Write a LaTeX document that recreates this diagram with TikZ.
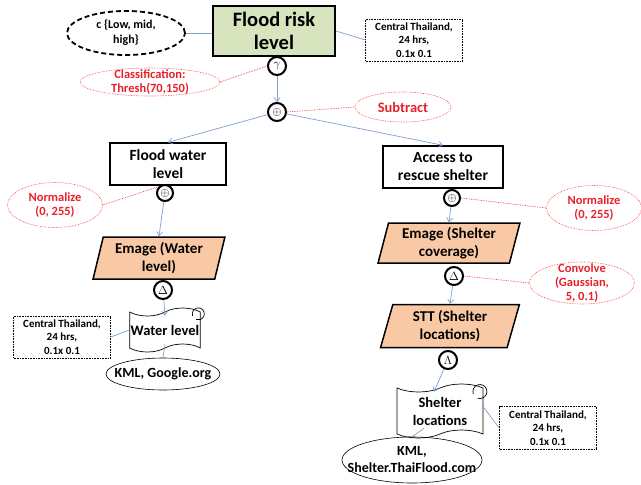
\documentclass[tikz,border=0pt]{standalone}
\usepackage{fontspec}
\setmainfont{Carlito}
\usetikzlibrary{shapes.geometric,shapes.symbols,arrows.meta}
\definecolor{titlegreen}{HTML}{D7E4BD}
\definecolor{peach}{HTML}{F9C9A5}
\definecolor{connblue}{HTML}{7F9FCF}
\definecolor{textred}{HTML}{E8202A}
\tikzset{
  titlebox/.style={draw, line width=2pt, fill=titlegreen, minimum width=122pt, minimum height=50pt,
    align=center, inner sep=1pt, font=\bfseries\fontsize{20.5}{23}\selectfont},
  procbox/.style={draw, line width=1.4pt, minimum width=116pt, minimum height=42pt, align=center,
    inner sep=1pt, font=\bfseries\fontsize{15.5}{18}\selectfont},
  metabox/.style={draw, densely dotted, line width=0.6pt, minimum width=97pt, minimum height=42pt,
    align=center, inner sep=1pt, font=\bfseries\fontsize{11}{13.5}\selectfont},
  lbl/.style={align=center, inner sep=0pt},
  redell/.style={ellipse, draw=red!85, densely dotted, line width=0.6pt, inner sep=0pt},
  redtxt/.style={lbl, text=textred, font=\bfseries\fontsize{12.5}{14}\selectfont},
  catell/.style={ellipse, draw, dash pattern=on 5pt off 3pt, line width=1.8pt, inner sep=0pt, minimum width=118pt, minimum height=44pt},
  srcell/.style={ellipse, draw, line width=0.6pt, inner sep=0pt},
  opnode/.style={circle, draw, line width=2pt, minimum size=18pt, inner sep=0pt, fill=white,
    font=\bfseries\fontsize{12}{12}\selectfont},
  paranode/.style={trapezium, trapezium left angle=76, trapezium right angle=104, trapezium stretches=true,
    draw, line width=1.5pt, fill=peach, align=center, inner sep=1pt,
    font=\bfseries\fontsize{15}{17.5}\selectfont},
  tapenode/.style={tape, draw, line width=0.7pt, fill=white, align=center, inner sep=1pt,
    tape bend height=8pt, font=\bfseries\fontsize{14.5}{18}\selectfont},
  conn/.style={draw=connblue, line width=0.7pt},
  arr/.style={conn, -{Straight Barb[length=4pt,width=6pt]}},
  redline/.style={draw=red!80, densely dotted, line width=0.7pt},
}
\begin{document}
\begin{tikzpicture}[x=1pt,y=-1pt]
\useasboundingbox (0,0) rectangle (641,485);

% top
\node[titlebox] (risk) at (274,31) {Flood risk\\level};
\node[catell, label={[lbl,font=\bfseries\fontsize{12}{15}\selectfont]center:{c \{Low, mid,\\high\}}}] (cat) at (126,33) {};
\node[metabox] (m1) at (414,40) {Central Thailand,\\24 hrs,\\0.1x 0.1};
\node[opnode] (g) at (277,66) {$\gamma$};
\node[redell, minimum width=140pt, minimum height=28pt, label={[redtxt]center:{Classification:\\Thresh(70,150)}}] (cls) at (150,82) {};
\node[opnode] (sub) at (277,112) {$\oplus$};
\node[redell, minimum width=96pt, minimum height=30pt, label={[redtxt,font=\bfseries\fontsize{14.5}{15}\selectfont]center:{Subtract}}] (subl) at (403,107) {};

% left branch
\node[procbox] (fw) at (168,164) {Flood water\\level};
\node[opnode, minimum size=16pt] (n1) at (165,193) {$\oplus$};
\node[redell, minimum width=95pt, minimum height=45pt, label={[redtxt]center:{Normalize\\(0, 255)}}] (nl1) at (55,205) {};
\node[paranode, minimum width=132pt, minimum height=42pt] (em1) at (159,258) {Emage (Water\\level)};
\node[opnode] (d1) at (163,290) {$\Delta$};
\node[tapenode, minimum width=70pt, minimum height=44pt] (wl) at (165,330) {Water level};
\node[metabox] (m2) at (62,337) {Central Thailand,\\24 hrs,\\0.1x 0.1};
\node[srcell, minimum width=114pt, minimum height=32pt, label={[lbl,font=\bfseries\fontsize{14}{16}\selectfont]center:{KML, Google.org}}] (kml1) at (163,374) {};

% right branch
\node[procbox, minimum width=120pt] (acc) at (443,167) {Access to\\rescue shelter};
\node[opnode, minimum size=16pt] (n2) at (452,198) {$\oplus$};
\node[redell, minimum width=95pt, minimum height=45pt, label={[redtxt]center:{Normalize\\(0, 255)}}] (nl2) at (594,208) {};
\node[paranode, minimum width=142pt, minimum height=40pt] (em2) at (449,243) {Emage (Shelter\\coverage)};
\node[opnode] (d2) at (454,276) {$\Delta$};
\node[redell, minimum width=105pt, minimum height=42pt, label={[redtxt]center:{Convolve\\(Gaussian,\\5, 0.1)}}] (conv) at (582,283) {};
\node[paranode, minimum width=140pt, minimum height=43pt] (stt) at (450,326) {STT (Shelter\\locations)};
\node[opnode] (lam) at (448,360) {$\Lambda$};
\node[tapenode, minimum width=86pt, minimum height=54pt] (sl) at (440,411) {Shelter\\locations};
\node[metabox, minimum height=43pt] (m3) at (548,428) {Central Thailand,\\24 hrs,\\0.1x 0.1};
\node[srcell, minimum width=140pt, minimum height=46pt, label={[lbl,font=\bfseries\fontsize{14}{17}\selectfont]center:{KML,\\Shelter.ThaiFlood.com}}] (kml2) at (412,460) {};

% curls on tapes
\draw[line width=0.7pt] ([xshift=-8pt,yshift=-4pt]wl.north east) arc[start angle=200, end angle=-110, radius=6pt];
\draw[line width=0.7pt] ([xshift=-10pt,yshift=-6pt]sl.north east) arc[start angle=200, end angle=-110, radius=7pt];

% connectors
\draw[conn] (cat.east) -- (risk.west |- cat.east);
\draw[conn] (risk.east) -- (m1.west);
\draw[redline] (cls.east) -- (g.west);
\draw[arr] (g) -- (sub);
\draw[redline] (sub.east) -- (subl.west);
\draw[arr] (sub) -- (fw.north);
\draw[arr] (sub) -- (acc.north);
\draw[redline] (nl1.east) -- (n1.north west);
\draw[arr] (n1) -- (em1.north);
\draw[arr] (d1) -- ([yshift=-4pt]wl.north);
\draw[conn] (m2.east) -- (wl.west);
\draw[conn] ([yshift=4pt]wl.south) -- (kml1.north);
\draw[redline] (n2.east) -- (nl2.west);
\draw[arr] (n2) -- (em2.north);
\draw[redline] (d2.east) -- (conv.west);
\draw[arr] (d2) -- (stt.north);
\draw[arr] (lam) -- ([xshift=-6pt,yshift=-4pt]sl.north);
\draw[conn] ([yshift=4pt]sl.east) -- (m3.west);
\draw[conn] ([xshift=-16pt,yshift=6pt]sl.south) -- (kml2.north);
\end{tikzpicture}
\end{document}
